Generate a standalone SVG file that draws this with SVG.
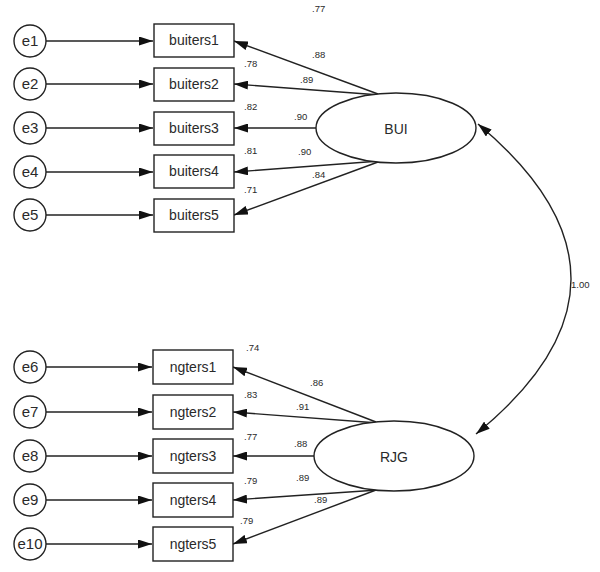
<svg xmlns="http://www.w3.org/2000/svg" width="600" height="572" viewBox="0 0 600 572">
  <style>
    .err circle { fill: #fff; stroke: #222; stroke-width: 1.4; }
    .obs rect { fill: #fff; stroke: #222; stroke-width: 1.4; }
    .lat ellipse { fill: #fff; stroke: #222; stroke-width: 1.4; }
    text { font-family: "Liberation Sans", Arial, sans-serif; fill: #2a2a2a; }
    .lbl { font-size: 14px; text-anchor: middle; }
    .err text { font-size: 15px; }
    .est { font-size: 9.5px; fill: #a3a3a3; }
    .links line, .links path { stroke: #222; stroke-width: 1.4; fill: none; }
  </style>
  <defs>
    <marker id="arr" viewBox="0 0 14 9" refX="14" refY="4.5" markerWidth="14" markerHeight="9" markerUnits="userSpaceOnUse" orient="auto">
      <path d="M0,0 L14,4.5 L0,9 Z" fill="#111"/>
    </marker>
    <marker id="arrS" viewBox="0 0 14 9" refX="14" refY="4.5" markerWidth="14" markerHeight="9" markerUnits="userSpaceOnUse" orient="auto-start-reverse">
      <path d="M0,0 L14,4.5 L0,9 Z" fill="#111"/>
    </marker>
  </defs>
  <rect width="600" height="572" fill="#fff"/>

  <!-- connectors -->
  <g class="links" id="connectors">
    <!-- error terms to indicators -->
    <line x1="46" y1="41" x2="153" y2="41" marker-end="url(#arr)"/>
    <line x1="46" y1="84" x2="153" y2="84" marker-end="url(#arr)"/>
    <line x1="46" y1="128" x2="153" y2="128" marker-end="url(#arr)"/>
    <line x1="46" y1="172" x2="153" y2="172" marker-end="url(#arr)"/>
    <line x1="46" y1="215" x2="153" y2="215" marker-end="url(#arr)"/>
    <line x1="46" y1="367" x2="152" y2="367" marker-end="url(#arr)"/>
    <line x1="46" y1="412" x2="152" y2="412" marker-end="url(#arr)"/>
    <line x1="46" y1="456" x2="152" y2="456" marker-end="url(#arr)"/>
    <line x1="46" y1="500" x2="152" y2="500" marker-end="url(#arr)"/>
    <line x1="46" y1="544" x2="152" y2="544" marker-end="url(#arr)"/>
    <!-- BUI loadings -->
    <line x1="378" y1="94" x2="234" y2="41" marker-end="url(#arr)"/>
    <line x1="380" y1="95" x2="234" y2="84" marker-end="url(#arr)"/>
    <line x1="316" y1="128" x2="234" y2="128" marker-end="url(#arr)"/>
    <line x1="380" y1="161" x2="234" y2="172" marker-end="url(#arr)"/>
    <line x1="378" y1="162" x2="234" y2="215" marker-end="url(#arr)"/>
    <!-- RJG loadings -->
    <line x1="376" y1="422" x2="233" y2="367" marker-end="url(#arr)"/>
    <line x1="378" y1="423" x2="233" y2="412" marker-end="url(#arr)"/>
    <line x1="314" y1="456" x2="233" y2="456" marker-end="url(#arr)"/>
    <line x1="378" y1="490" x2="233" y2="500" marker-end="url(#arr)"/>
    <line x1="376" y1="490" x2="233" y2="544" marker-end="url(#arr)"/>
    <!-- covariance -->
    <path d="M478,124 Q665,280 476,434" marker-start="url(#arrS)" marker-end="url(#arr)"/>
  </g>

  <!-- error terms -->
  <g class="err">
    <g id="e1"><circle cx="30" cy="41" r="16"/><text class="lbl" x="30" y="46">e1</text></g>
    <g id="e2"><circle cx="30" cy="84" r="16"/><text class="lbl" x="30" y="89">e2</text></g>
    <g id="e3"><circle cx="30" cy="128" r="16"/><text class="lbl" x="30" y="133">e3</text></g>
    <g id="e4"><circle cx="30" cy="172" r="16"/><text class="lbl" x="30" y="177">e4</text></g>
    <g id="e5"><circle cx="30" cy="215" r="16"/><text class="lbl" x="30" y="220">e5</text></g>
    <g id="e6"><circle cx="30" cy="367" r="16"/><text class="lbl" x="30" y="372">e6</text></g>
    <g id="e7"><circle cx="30" cy="412" r="16"/><text class="lbl" x="30" y="417">e7</text></g>
    <g id="e8"><circle cx="30" cy="456" r="16"/><text class="lbl" x="30" y="461">e8</text></g>
    <g id="e9"><circle cx="30" cy="500" r="16"/><text class="lbl" x="30" y="505">e9</text></g>
    <g id="e10"><circle cx="30" cy="544" r="16"/><text class="lbl" x="30" y="549">e10</text></g>
  </g>

  <!-- observed indicators -->
  <g class="obs">
    <g id="buiters1"><rect x="154" y="24" width="80" height="33"/><text class="lbl" x="194" y="45">buiters1</text></g>
    <g id="buiters2"><rect x="154" y="68" width="80" height="33"/><text class="lbl" x="194" y="89">buiters2</text></g>
    <g id="buiters3"><rect x="154" y="112" width="80" height="33"/><text class="lbl" x="194" y="133">buiters3</text></g>
    <g id="buiters4"><rect x="154" y="155" width="80" height="33"/><text class="lbl" x="194" y="176">buiters4</text></g>
    <g id="buiters5"><rect x="154" y="199" width="80" height="33"/><text class="lbl" x="194" y="220">buiters5</text></g>
    <g id="ngters1"><rect x="153" y="350" width="80" height="34"/><text class="lbl" x="193" y="372">ngters1</text></g>
    <g id="ngters2"><rect x="153" y="395" width="80" height="34"/><text class="lbl" x="193" y="417">ngters2</text></g>
    <g id="ngters3"><rect x="153" y="439" width="80" height="34"/><text class="lbl" x="193" y="461">ngters3</text></g>
    <g id="ngters4"><rect x="153" y="483" width="80" height="34"/><text class="lbl" x="193" y="505">ngters4</text></g>
    <g id="ngters5"><rect x="153" y="527" width="80" height="34"/><text class="lbl" x="193" y="549">ngters5</text></g>
  </g>

  <!-- latent factors -->
  <g class="lat">
    <g id="BUI"><ellipse cx="396" cy="128" rx="80" ry="35"/><text class="lbl" x="396" y="134">BUI</text></g>
    <g id="RJG"><ellipse cx="394" cy="456" rx="80" ry="35"/><text class="lbl" x="394" y="462">RJG</text></g>
  </g>

  <!-- estimates -->
  <g class="est">
    <text x="312" y="12">.77</text>
    <text x="312" y="58">.88</text>
    <text x="244" y="67">.78</text>
    <text x="300" y="83">.89</text>
    <text x="244" y="110">.82</text>
    <text x="294" y="120">.90</text>
    <text x="244" y="154">.81</text>
    <text x="298" y="155">.90</text>
    <text x="312" y="178">.84</text>
    <text x="244" y="193">.71</text>
    <text x="246" y="351">.74</text>
    <text x="310" y="386">.86</text>
    <text x="244" y="398">.83</text>
    <text x="296" y="410">.91</text>
    <text x="244" y="440">.77</text>
    <text x="294" y="447">.88</text>
    <text x="244" y="484">.79</text>
    <text x="296" y="481">.89</text>
    <text x="314" y="503">.89</text>
    <text x="240" y="524">.79</text>
    <text x="571" y="288">1.00</text>
  </g>
</svg>
